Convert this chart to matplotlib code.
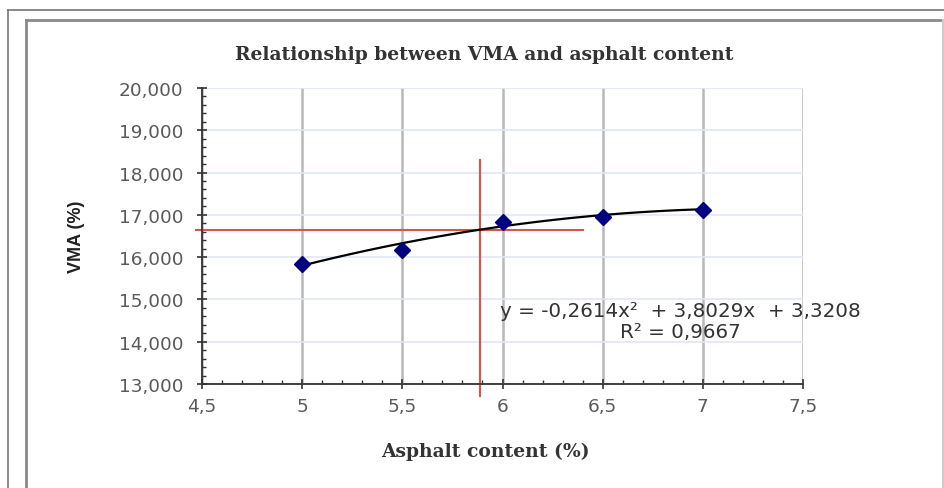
import matplotlib.pyplot as plt
import numpy as np
from matplotlib.ticker import MultipleLocator, FuncFormatter
from matplotlib.lines import Line2D

# data
asphalt = [5.0, 5.5, 6.0, 6.5, 7.0]
vma = [15.83, 16.18, 16.84, 16.96, 17.12]
coef = [-0.2614, 3.8029, 3.3208]  # trendline from label
r2 = 0.9667
opt_x = 5.888
opt_y = 16.65

fig = plt.figure(figsize=(9.45, 4.89), dpi=100)
ax = fig.add_axes([0.2138, 0.2127, 0.6359, 0.6053])

# grid
ax.set_xlim(4.5, 7.5)
ax.set_ylim(13, 20)
ax.xaxis.set_major_locator(MultipleLocator(0.5))
ax.xaxis.set_minor_locator(MultipleLocator(0.1))
ax.yaxis.set_major_locator(MultipleLocator(1))
ax.yaxis.set_minor_locator(MultipleLocator(0.2))
ax.grid(True, axis='x', which='major', color='#b8b8b8', lw=1.8, zorder=0)
ax.grid(True, axis='y', which='major', color='#dfe7f6', lw=1.2, zorder=0)

def fmt_x(v, pos):
    return f'{v:g}'.replace('.', ',')

def fmt_y(v, pos):
    return f'{v:.3f}'.replace('.', ',')

ax.xaxis.set_major_formatter(FuncFormatter(fmt_x))
ax.yaxis.set_major_formatter(FuncFormatter(fmt_y))

for s in ['top', 'right']:
    ax.spines[s].set_visible(False)
for s in ['left', 'bottom']:
    ax.spines[s].set_color('#333333')
    ax.spines[s].set_linewidth(1.3)

ax.tick_params(which='major', direction='inout', length=7, width=1.2, color='#333333',
               labelsize=13.3, labelcolor='#5a5a5a')
ax.tick_params(axis='y', which='major', pad=10)
ax.tick_params(axis='x', which='major', pad=6)
ax.tick_params(which='minor', direction='in', length=3, width=1, color='#333333')
for lab in ax.get_xticklabels() + ax.get_yticklabels():
    lab.set_fontfamily('DejaVu Sans')

# trendline
xs = np.linspace(asphalt[0], asphalt[-1], 100)
ax.plot(xs, np.polyval(coef, xs), color='black', lw=1.6, zorder=3)
ax.plot(asphalt, vma, linestyle='none', marker='D', markersize=8,
        color='#000080', zorder=4)

# red optimum lines
ax.plot([opt_x, opt_x], [12.72, 18.3], color='#d9534f', lw=1.5, clip_on=False, zorder=2)
ax.plot([4.47, 6.4], [opt_y, opt_y], color='#d9534f', lw=1.5, clip_on=False, zorder=2)

ax.text(6.89, 14.73, 'y = -0,2614x²  + 3,8029x  + 3,3208', ha='center', va='center',
        fontsize=14.3, color='#333333', family='DejaVu Sans', zorder=5)
ax.text(6.89, 14.23, f'R² = {r2:.4f}'.replace('.', ','), ha='center', va='center',
        fontsize=14.3, color='#333333', family='DejaVu Sans', zorder=5)

W, H = 945, 489
fig.text(484 / W, 1 - 55 / H, 'Relationship between VMA and asphalt content',
         fontsize=13.5, fontweight='bold', family='DejaVu Serif', color='#333333',
         ha='center', va='center')
fig.text(485 / W, 1 - 452 / H, 'Asphalt content (%)', fontsize=13.5, fontweight='bold',
         family='DejaVu Serif', color='#333333', ha='center', va='center')
ax.set_ylabel('VMA (%)', fontsize=13, fontweight='bold',
              family='Liberation Sans', color='#222222', labelpad=24)

# frame lines of the screenshot
def fline(x0, y0, x1, y1, c, lw):
    fig.add_artist(Line2D([x0 / W, x1 / W], [1 - y0 / H, 1 - y1 / H],
                          color=c, lw=lw, transform=fig.transFigure))

fline(8, 11, 945, 11, '#777777', 1.2)
fline(8, 11, 8, 489, '#777777', 1.2)
fline(26, 21, 945, 21, '#8a8a8a', 2.0)
fline(26, 21, 26, 489, '#8a8a8a', 2.0)
fline(943.5, 21, 943.5, 489, '#cccccc', 1.5)

plt.savefig('out.png', dpi=100)
